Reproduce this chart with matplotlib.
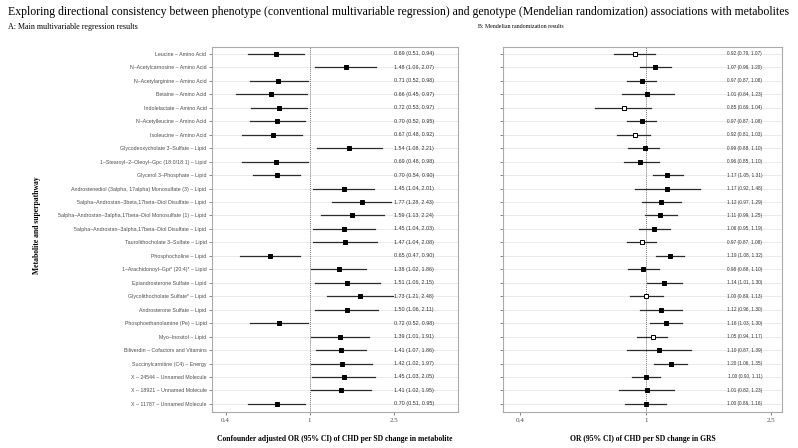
import numpy as np
from matplotlib import pyplot as plt

labels = ["Leucine – Amino Acid", "N–Acetylcarnosine – Amino Acid", "N–Acetylarginine – Amino Acid",
          "Betaine – Amino Acid", "Indolelactate – Amino Acid", "N–Acetylleucine – Amino Acid",
          "Isoleucine – Amino Acid", "Glycodeoxycholate 3–Sulfate – Lipid",
          "1–Stearoyl–2–Oleoyl–Gpc (18:0/18:1) – Lipid", "Glycerol 3–Phosphate – Lipid",
          "Androstenediol (3alpha, 17alpha) Monosulfate (3) – Lipid",
          "5alpha–Androstan–3beta,17beta–Diol Disulfate – Lipid",
          "5alpha–Androstan–3alpha,17beta–Diol Monosulfate (1) – Lipid",
          "5alpha–Androstan–3alpha,17beta–Diol Disulfate – Lipid",
          "Taurolithocholate 3–Sulfate – Lipid", "Phosphocholine – Lipid",
          "1–Arachidonoyl–Gpi* (20:4)* – Lipid", "Epiandrosterone Sulfate – Lipid",
          "Glycolithocholate Sulfate* – Lipid", "Androsterone Sulfate – Lipid",
          "Phosphoethanolamine (Pe) – Lipid", "Myo–Inositol – Lipid",
          "Biliverdin – Cofactors and Vitamins", "Succinylcarnitine (C4) – Energy",
          "X – 24544 – Unnamed Molecule", "X – 18921 – Unnamed Molecule", "X – 11787 – Unnamed Molecule"]

# A: multivariable regression
or_a = [0.69, 1.48, 0.71, 0.66, 0.72, 0.70, 0.67, 1.54, 0.69, 0.70, 1.45, 1.77, 1.59, 1.45,
        1.47, 0.65, 1.38, 1.51, 1.73, 1.50, 0.72, 1.39, 1.41, 1.42, 1.45, 1.41, 0.70]
lo_a = [0.51, 1.06, 0.52, 0.45, 0.53, 0.52, 0.48, 1.08, 0.48, 0.54, 1.04, 1.28, 1.13, 1.04,
        1.04, 0.47, 1.02, 1.06, 1.21, 1.06, 0.52, 1.01, 1.07, 1.02, 1.03, 1.02, 0.51]
hi_a = [0.94, 2.07, 0.98, 0.97, 0.97, 0.95, 0.92, 2.21, 0.98, 0.90, 2.01, 2.43, 2.24, 2.03,
        2.08, 0.90, 1.86, 2.15, 2.48, 2.11, 0.98, 1.91, 1.86, 1.97, 2.05, 1.95, 0.95]

# B: Mendelian randomization
or_b = [0.92, 1.07, 0.97, 1.01, 0.85, 0.97, 0.92, 0.99, 0.96, 1.17, 1.17, 1.12, 1.11, 1.06,
        0.97, 1.19, 0.98, 1.14, 1.00, 1.12, 1.16, 1.05, 1.10, 1.20, 1.00, 1.01, 1.00]
lo_b = [0.79, 0.96, 0.87, 0.84, 0.69, 0.87, 0.81, 0.88, 0.85, 1.05, 0.92, 0.97, 0.99, 0.95,
        0.87, 1.08, 0.88, 1.01, 0.89, 0.96, 1.03, 0.94, 0.87, 1.06, 0.90, 0.82, 0.86]
hi_b = [1.07, 1.20, 1.08, 1.23, 1.04, 1.08, 1.03, 1.10, 1.10, 1.31, 1.48, 1.29, 1.25, 1.19,
        1.08, 1.32, 1.10, 1.30, 1.13, 1.30, 1.30, 1.17, 1.39, 1.35, 1.11, 1.23, 1.16]
filled_b = [0, 1, 1, 1, 0, 1, 0, 1, 1, 1, 1, 1, 1, 1, 0, 1, 1, 1, 0, 1, 1, 0, 1, 1, 1, 1, 1]

serif = 'Liberation Serif'
sans = 'Liberation Sans'

fig = plt.figure(figsize=(7.98, 4.48), dpi=100)
axA = fig.add_axes([0.2657, 0.0804, 0.3083, 0.8147])
axB = fig.add_axes([0.6303, 0.0804, 0.3496, 0.8147])

n = len(labels)
y = np.arange(n)[::-1]


def forest(ax, orv, lo, hi, filled, xlim, txt_x, txt_size):
    for i in range(n):
        ax.plot([lo[i], hi[i]], [y[i], y[i]], color='#2b2b2b', lw=0.9, zorder=2)
        fc = 'black' if filled[i] else 'white'
        ax.plot(orv[i], y[i], marker='s', ms=3.2, mfc=fc, mec='black', mew=0.7, zorder=3)
        ax.text(txt_x, y[i], f"{orv[i]:.2f} ({lo[i]:.2f}, {hi[i]:.2f})", transform=ax.get_yaxis_transform(),
                ha='center', va='center', fontsize=txt_size, family=sans, color='#333333')
    ax.set_xscale('log')
    ax.set_xlim(*xlim)
    ax.set_ylim(-0.6, n - 0.48)
    ax.axvline(1, color='#777777', lw=0.7, ls=(0, (1, 1)), zorder=1)
    for yy in y:
        ax.axhline(yy, color='#e6e6e6', lw=0.6, zorder=0)
    ax.set_xticks([0.4, 1, 2.5])
    ax.set_xticklabels(['0.4', '1', '2.5'], family=serif, fontsize=5, color='#4d4d4d')
    ax.minorticks_off()
    ax.set_yticks(y)
    ax.tick_params(length=2, width=0.5, color='#555555', pad=2)
    for s in ax.spines.values():
        s.set_color('#aaaaaa')
        s.set_linewidth(0.8)


forest(axA, or_a, lo_a, hi_a, [1] * n, (0.345, 5.05), 0.821, 3.9)
axA.set_yticklabels(labels, family=sans, fontsize=3.8, color='#4d4d4d')
forest(axB, or_b, lo_b, hi_b, filled_b, (0.352, 2.70), 0.867, 3.4)
axB.set_yticklabels([])

fig.text(0.01, 0.973, "Exploring directional consistency between phenotype (conventional multivariable regression) "
         "and genotype (Mendelian randomization) associations with metabolites",
         family=serif, fontsize=8.5, va='center')
fig.text(0.01, 0.94, "A: Main multivariable regression results", family=serif, fontsize=5.8, va='center')
fig.text(0.599, 0.94, "B: Mendelian randomization results", family=serif, fontsize=4.2, va='center')
fig.text(0.046, 0.498, "Metabolite and superpathway", family=serif, fontsize=5.5, weight='bold',
         rotation=90, ha='center', va='center')
fig.text(0.4197, 0.02, "Confounder adjusted OR (95% CI) of CHD per SD change in metabolite",
         family=serif, fontsize=5.5, weight='bold', ha='center', va='center')
fig.text(0.805, 0.02, "OR (95% CI) of CHD per SD change in GRS",
         family=serif, fontsize=5.5, weight='bold', ha='center', va='center')

plt.savefig('out.png', dpi=100)
